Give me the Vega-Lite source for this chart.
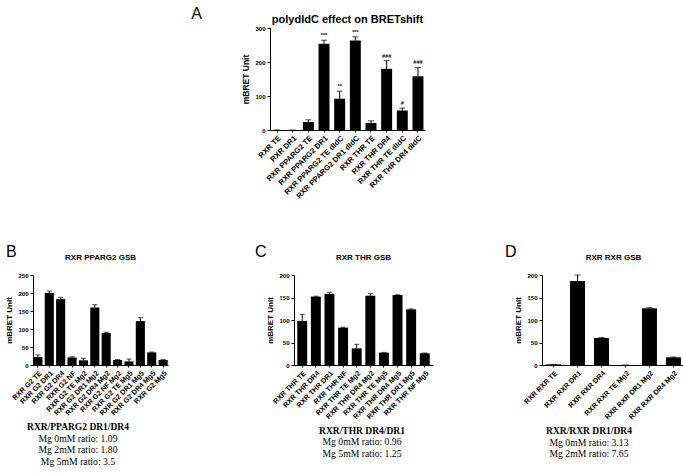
{
  "$schema": "https://vega.github.io/schema/vega-lite/v6.json",
  "padding": {"left": 5, "top": 5, "right": 0, "bottom": 0},
  "background": "white",
  "spacing": 44,
  "config": {
    "font": "Liberation Sans",
    "view": {"stroke": null},
    "axis": {"domainColor": "black", "tickColor": "black", "labelColor": "black", "titleColor": "black", "grid": false, "labelFont": "Liberation Sans", "labelFontWeight": "bold", "titleFontWeight": "bold", "titleFont": "Liberation Sans", "tickSize": 3, "domainWidth": 1, "labelPadding": 2},
    "axisY": {"labelFontSize": 6, "titleFontSize": 8, "titlePadding": 4, "labelOverlap": false},
    "axisX": {"labelFontSize": 7.2, "labelAngle": -45, "tickSize": 2},
    "title": {"font": "Liberation Sans", "fontWeight": "bold", "color": "black"},
    "concat": {"spacing": 20}
  },
  "datasets": {
    "A": [
      {"label": "RXR TE", "v": 0, "hi": 0, "sig": ""},
      {"label": "RXR DR1", "v": 0, "hi": 0, "sig": ""},
      {"label": "RXR PPARG2 TE", "v": 23.5, "hi": 30, "sig": ""},
      {"label": "RXR PPARG2 DR1", "v": 254, "hi": 264, "sig": "***"},
      {"label": "RXR PPARG2 TE dIdC", "v": 92, "hi": 114, "sig": "**"},
      {"label": "RXR PPARG2 DR1 dIdC", "v": 263, "hi": 274, "sig": "***"},
      {"label": "RXR THR TE", "v": 20.5, "hi": 27, "sig": ""},
      {"label": "RXR THR DR4", "v": 180, "hi": 204, "sig": "###"},
      {"label": "RXR THR TE dIdC", "v": 57, "hi": 64.5, "sig": "#"},
      {"label": "RXR THR DR4 dIdC", "v": 158, "hi": 184, "sig": "###"}
    ],
    "B": [
      {"label": "RXR G2 TE", "v": 22, "hi": 28},
      {"label": "RXR G2 DR1", "v": 200, "hi": 205.5},
      {"label": "RXR G2 DR4", "v": 183, "hi": 188},
      {"label": "RXR G2 NF", "v": 21, "hi": 23},
      {"label": "RXR G2 TE Mg2", "v": 13, "hi": 18.5},
      {"label": "RXR G2 DR1 Mg2", "v": 160, "hi": 167.5},
      {"label": "RXR G2 DR4 Mg2", "v": 89, "hi": 91},
      {"label": "RXR G2 NF Mg2", "v": 14, "hi": 15},
      {"label": "RXR G2 TE Mg5", "v": 10, "hi": 16.5},
      {"label": "RXR G2 DR1 Mg5", "v": 122, "hi": 131.5},
      {"label": "RXR G2 DR4 Mg5", "v": 35, "hi": 36},
      {"label": "RXR G2 Mg5", "v": 14, "hi": 15}
    ],
    "C": [
      {"label": "RXR THR TE", "v": 98, "hi": 112.5},
      {"label": "RXR THR DR4", "v": 152, "hi": 153},
      {"label": "RXR THR DR1", "v": 158, "hi": 161.5},
      {"label": "RXR THR NF", "v": 83, "hi": 84},
      {"label": "RXR THR TE Mg2", "v": 37, "hi": 46},
      {"label": "RXR THR DR4 Mg2", "v": 154, "hi": 158.5},
      {"label": "RXR THR TE Mg5", "v": 27.4, "hi": 28},
      {"label": "RXR THR DR4 Mg5", "v": 155.5, "hi": 156},
      {"label": "RXR THR DR1 Mg5", "v": 123.7, "hi": 124.5},
      {"label": "RXR THR NF Mg5", "v": 26, "hi": 26.7}
    ],
    "D": [
      {"label": "RXR RXR TE", "v": 1.5, "hi": 1.5},
      {"label": "RXR RXR DR1", "v": 186.7, "hi": 200},
      {"label": "RXR RXR DR4", "v": 60, "hi": 61},
      {"label": "RXR RXR TE Mg2", "v": 0, "hi": 0},
      {"label": "RXR RXR DR1 Mg2", "v": 126, "hi": 127.4},
      {"label": "RXR RXR DR4 Mg2", "v": 17, "hi": 17.8}
    ]
  },
  "vconcat": [
    {
      "spacing": 18,
      "hconcat": [
        {
          "width": 190, "height": 1,
          "title": {"text": "A", "anchor": "end", "fontSize": 16, "fontWeight": "normal", "dx": -21, "offset": 1},
          "data": {"values": [{}]},
          "mark": {"type": "text", "text": ""}
        },
        {
          "width": 155, "height": 102,
          "title": {"text": "polydIdC effect on BRETshift", "fontSize": 11, "offset": 1, "dy": 1},
          "data": {"name": "A"},
          "encoding": {"x": {"field": "label", "type": "nominal", "sort": null, "scale": {"paddingInner": 0.3, "paddingOuter": 0.1}, "axis": {"title": null, "labelFontSize": 7.6}}},
          "layer": [
            {"mark": {"type": "bar", "color": "black"}, "encoding": {"y": {"field": "v", "type": "quantitative", "scale": {"domain": [0, 300], "nice": false}, "axis": {"title": "mBRET Unit", "values": [0, 100, 200, 300], "titleFontSize": 8.5}}}},
            {"mark": {"type": "rule", "color": "black"}, "encoding": {"y": {"field": "v", "type": "quantitative", "axis": {"title": "mBRET Unit", "values": [0, 100, 200, 300], "titleFontSize": 8.5}}, "y2": {"field": "hi"}}},
            {"mark": {"type": "tick", "color": "black", "thickness": 1, "size": 6}, "encoding": {"y": {"field": "hi", "type": "quantitative", "axis": {"title": "mBRET Unit", "values": [0, 100, 200, 300], "titleFontSize": 8.5}}}},
            {"mark": {"type": "text", "color": "black", "fontSize": 5.5, "fontWeight": "bold", "dy": -5}, "encoding": {"y": {"field": "hi", "type": "quantitative", "axis": {"title": "mBRET Unit", "values": [0, 100, 200, 300], "titleFontSize": 8.5}}, "text": {"field": "sig"}}}
          ]
        }
      ]
    },
    {
      "spacing": 71,
      "hconcat": [
        {
          "spacing": 86,
          "hconcat": [
            {
              "title": {"text": "B", "anchor": "start", "fontSize": 16, "fontWeight": "normal", "offset": -6},
              "vconcat": [
                {
                  "title": {"text": "RXR/PPARG2 DR1/DR4", "subtitle": ["Mg 0mM ratio: 1.09", "Mg 2mM ratio: 1.80", "Mg 5mM ratio: 3.5"], "orient": "bottom", "anchor": "middle", "dx": -9, "font": "Liberation Serif", "fontSize": 9.5, "fontWeight": "bold", "subtitleFont": "Liberation Serif", "subtitleFontSize": 9.7, "subtitleColor": "black", "subtitlePadding": 2, "offset": 6},
                  "vconcat": [
                    {
                      "width": 135, "height": 90,
                      "title": {"text": "RXR PPARG2 GSB", "fontSize": 8, "offset": 10},
                      "data": {"name": "B"},
                      "encoding": {"x": {"field": "label", "type": "nominal", "sort": null, "scale": {"paddingInner": 0.2, "paddingOuter": 0.03}, "axis": {"title": null}}},
                      "layer": [
                        {"mark": {"type": "bar", "color": "black"}, "encoding": {"y": {"field": "v", "type": "quantitative", "scale": {"domain": [0, 250], "nice": false}, "axis": {"title": "mBRET Unit", "values": [0, 50, 100, 150, 200, 250]}}}},
                        {"mark": {"type": "rule", "color": "black"}, "encoding": {"y": {"field": "v", "type": "quantitative", "axis": {"title": "mBRET Unit", "values": [0, 50, 100, 150, 200, 250]}}, "y2": {"field": "hi"}}},
                        {"mark": {"type": "tick", "color": "black", "thickness": 1, "size": 5}, "encoding": {"y": {"field": "hi", "type": "quantitative", "axis": {"title": "mBRET Unit", "values": [0, 50, 100, 150, 200, 250]}}}}
                      ]
                    }
                  ]
                }
              ]
            },
            {
              "title": {"text": "C", "anchor": "start", "fontSize": 16, "fontWeight": "normal", "offset": -6, "dx": -12},
              "vconcat": [
                {
                  "title": {"text": "RXR/THR DR4/DR1", "subtitle": ["Mg 0mM ratio: 0.96", "Mg 5mM ratio: 1.25"], "orient": "bottom", "anchor": "middle", "dx": 12, "font": "Liberation Serif", "fontSize": 9.5, "fontWeight": "bold", "subtitleFont": "Liberation Serif", "subtitleFontSize": 9.7, "subtitleColor": "black", "subtitlePadding": 2, "offset": 6},
                  "vconcat": [
                    {
                      "width": 139, "height": 90,
                      "title": {"text": "RXR THR GSB", "fontSize": 8, "offset": 10},
                      "data": {"name": "C"},
                      "encoding": {"x": {"field": "label", "type": "nominal", "sort": null, "scale": {"paddingInner": 0.27, "paddingOuter": 0.24}, "axis": {"title": null}}},
                      "layer": [
                        {"mark": {"type": "bar", "color": "black"}, "encoding": {"y": {"field": "v", "type": "quantitative", "scale": {"domain": [0, 200], "nice": false}, "axis": {"title": "mBRET Unit", "values": [0, 50, 100, 150, 200]}}}},
                        {"mark": {"type": "rule", "color": "black"}, "encoding": {"y": {"field": "v", "type": "quantitative", "axis": {"title": "mBRET Unit", "values": [0, 50, 100, 150, 200]}}, "y2": {"field": "hi"}}},
                        {"mark": {"type": "tick", "color": "black", "thickness": 1, "size": 5}, "encoding": {"y": {"field": "hi", "type": "quantitative", "axis": {"title": "mBRET Unit", "values": [0, 50, 100, 150, 200]}}}}
                      ]
                    }
                  ]
                }
              ]
            }
          ]
        },
        {
          "title": {"text": "D", "anchor": "start", "fontSize": 16, "fontWeight": "normal", "offset": -6, "dx": -10},
          "vconcat": [
            {
              "title": {"text": "RXR/RXR DR1/DR4", "subtitle": ["Mg 0mM ratio: 3.13", "Mg 2mM ratio: 7.65"], "orient": "bottom", "anchor": "middle", "dx": -11, "font": "Liberation Serif", "fontSize": 9.5, "fontWeight": "bold", "subtitleFont": "Liberation Serif", "subtitleFontSize": 9.7, "subtitleColor": "black", "subtitlePadding": 2, "offset": 6},
              "vconcat": [
                {
                  "width": 143, "height": 90,
                  "title": {"text": "RXR RXR GSB", "fontSize": 8, "offset": 10},
                  "data": {"name": "D"},
                  "encoding": {"x": {"field": "label", "type": "nominal", "sort": null, "scale": {"paddingInner": 0.375, "paddingOuter": 0.17}, "axis": {"title": null}}},
                  "layer": [
                    {"mark": {"type": "bar", "color": "black"}, "encoding": {"y": {"field": "v", "type": "quantitative", "scale": {"domain": [0, 200], "nice": false}, "axis": {"title": "mBRET Unit", "values": [0, 50, 100, 150, 200]}}}},
                    {"mark": {"type": "rule", "color": "black"}, "encoding": {"y": {"field": "v", "type": "quantitative", "axis": {"title": "mBRET Unit", "values": [0, 50, 100, 150, 200]}}, "y2": {"field": "hi"}}},
                    {"mark": {"type": "tick", "color": "black", "thickness": 1, "size": 6}, "encoding": {"y": {"field": "hi", "type": "quantitative", "axis": {"title": "mBRET Unit", "values": [0, 50, 100, 150, 200]}}}}
                  ]
                }
              ]
            }
          ]
        }
      ]
    }
  ]
}
